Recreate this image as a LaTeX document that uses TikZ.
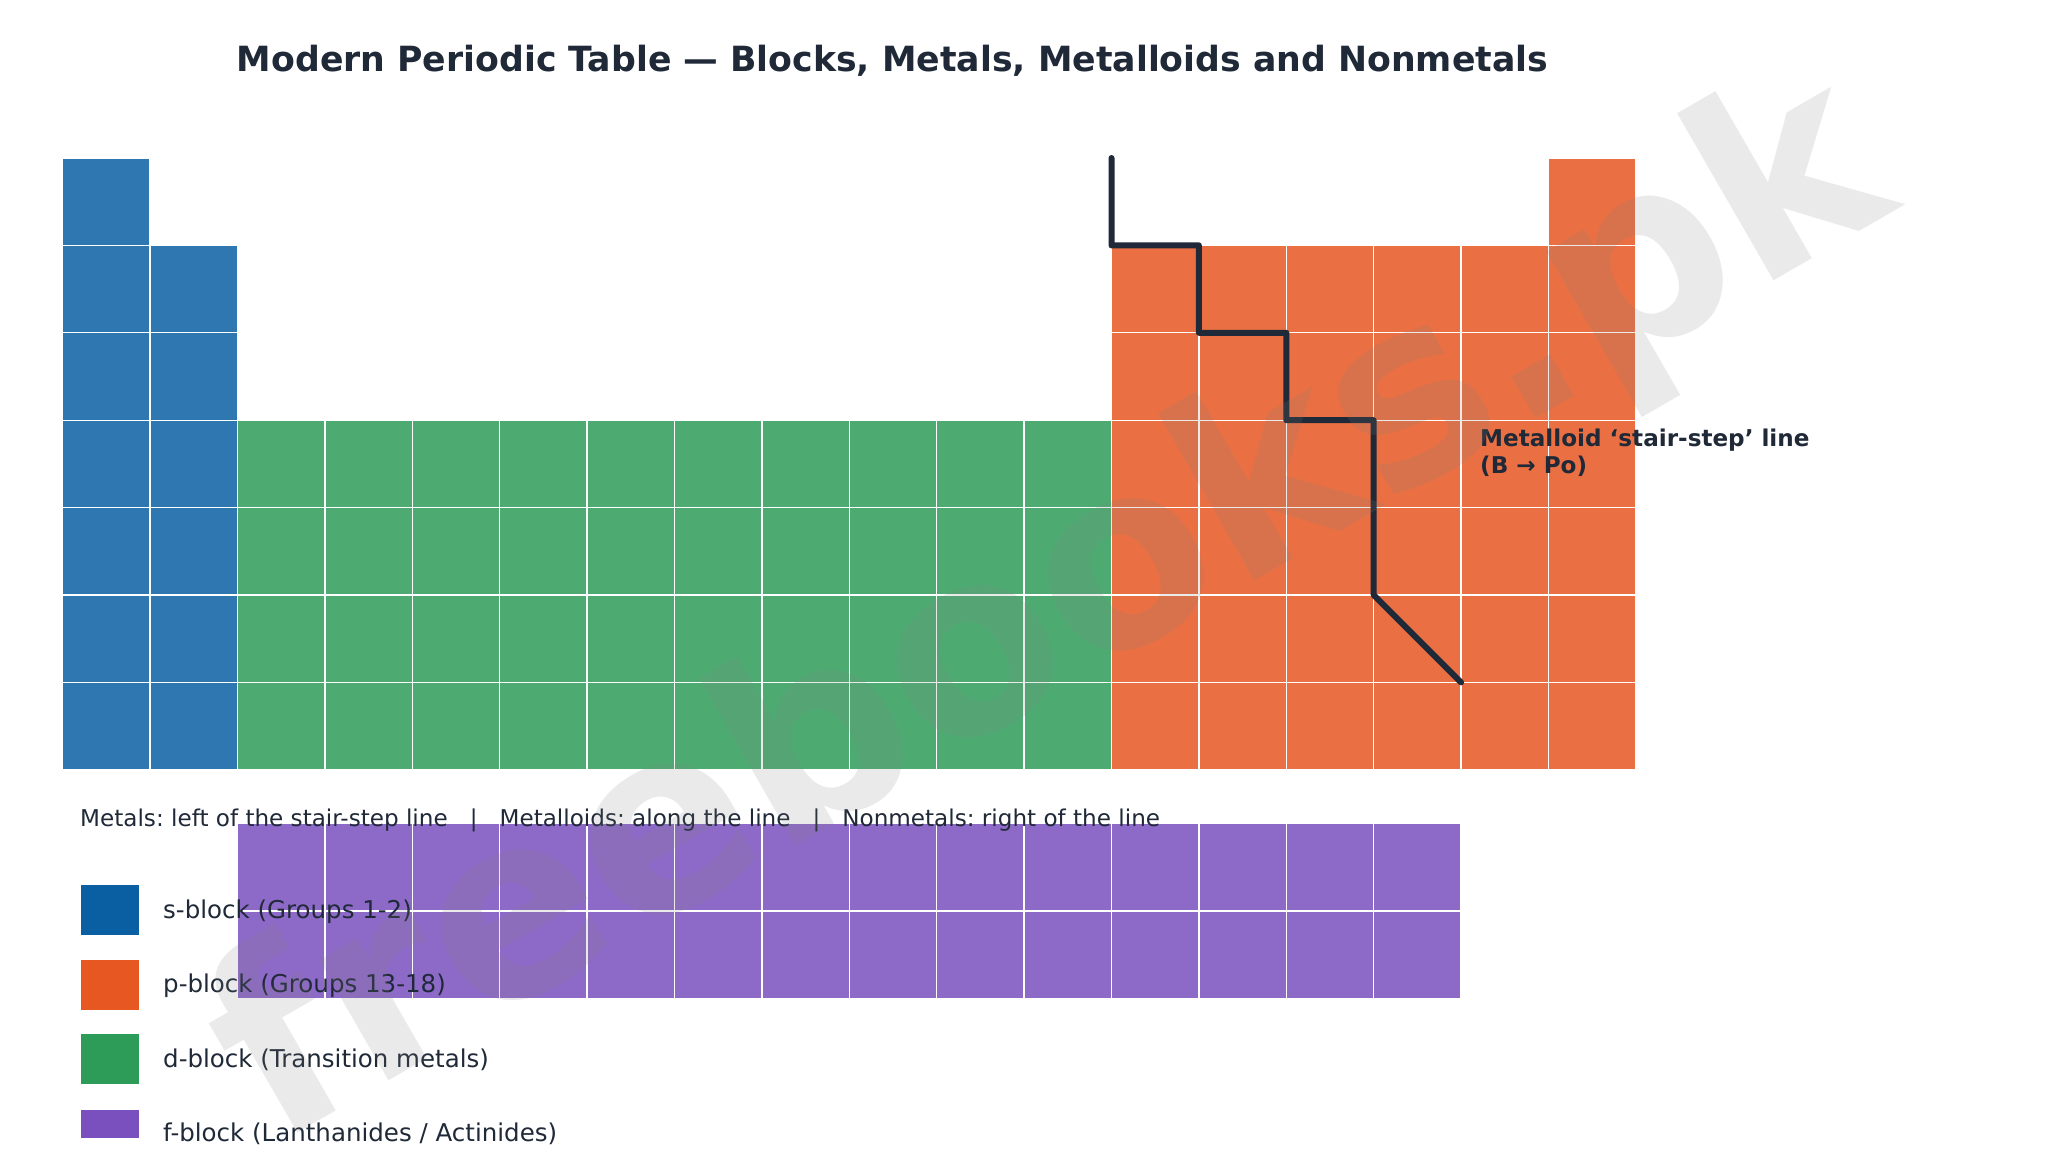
\documentclass[tikz,border=0pt]{standalone}
\usepackage{fontspec}
\setmainfont{DejaVu Sans}
\frenchspacing
\definecolor{ink}{HTML}{1F2937}
\definecolor{sLeg}{HTML}{0A5FA3}
\definecolor{pLeg}{HTML}{E65722}
\definecolor{dLeg}{HTML}{2E9C59}
\definecolor{fLeg}{HTML}{7A50BE}
\definecolor{sCell}{HTML}{2F77B1}
\definecolor{pCell}{HTML}{EA7043}
\definecolor{dCell}{HTML}{4DAB72}
\definecolor{fCell}{HTML}{8E6AC8}
\newcommand{\pcell}[3]{\draw[cellbox, fill=#3] (#1,#2) rectangle +(1,1);}
\begin{document}
\begin{tikzpicture}[x=1pt,y=-1pt,
  cellbox/.style={draw=white, line width=1.3pt},
  legtext/.style={anchor=base west, inner sep=0pt, text=ink, font=\fontsize{24.5}{29}\selectfont},
  anntext/.style={anchor=base west, inner sep=0pt, text=ink, font=\bfseries\fontsize{23.1}{28}\selectfont},
  stairline/.style={draw=ink, line width=6pt, line cap=round, line join=round}]
\useasboundingbox (0,0) rectangle (2048,1164);
\fill[white] (0,0) rectangle (2048,1164);
% main table
\begin{scope}[shift={(62.7,158)}, x=87.4pt, y=-87.4pt]
  \pcell{0}{0}{sCell}
  \pcell{17}{0}{pCell}
  \foreach \r in {1,...,6}{
    \pcell{0}{\r}{sCell}
    \pcell{1}{\r}{sCell}
    \foreach \c in {12,...,17}{\pcell{\c}{\r}{pCell}}
  }
  \foreach \r in {3,...,6}{
    \foreach \c in {2,...,11}{\pcell{\c}{\r}{dCell}}
  }
  \coordinate (s0) at (12,0);
  \coordinate (s1) at (12,1);
  \coordinate (s2) at (13,1);
  \coordinate (s3) at (13,2);
  \coordinate (s4) at (14,2);
  \coordinate (s5) at (14,3);
  \coordinate (s6) at (15,3);
  \coordinate (s7) at (15,5);
  \coordinate (s8) at (16,6);
\end{scope}
% f-block
\begin{scope}[shift={(237.5,823.5)}, x=87.4pt, y=-87.4pt]
  \foreach \r in {0,1}{
    \foreach \c in {0,...,13}{\pcell{\c}{\r}{fCell}}
  }
\end{scope}
% stair-step line
\draw[stairline] (s0) -- (s1) -- (s2) -- (s3) -- (s4) -- (s5) -- (s6) -- (s7) -- (s8);
% title
\node[anchor=base, inner sep=0pt, text=ink, font=\bfseries\fontsize{34.7}{42}\selectfont] (title) at (892.5,71) {Modern Periodic Table — Blocks, Metals, Metalloids and Nonmetals};
% annotation
\node[anntext] (ann1) at (1480,446.7) {Metalloid ‘stair-step’ line};
\node[anntext] (ann2) at (1480,473.3) {(B → Po)};
% note
\node[anchor=base west, inner sep=0pt, text=ink, font=\fontsize{23.1}{28}\selectfont] (note) at (80,826.7) {Metals: left of the stair-step line\ \ \ |\ \ \ Metalloids: along the line\ \ \ |\ \ \ Nonmetals: right of the line};
% legend
\fill[sLeg] (81,885) rectangle (139,935);
\fill[pLeg] (81,960) rectangle (139,1010);
\fill[dLeg] (81,1034) rectangle (139,1084);
\fill[fLeg] (81,1110) rectangle (139,1138);
\node[legtext] (ls) at (163,918) {s-block (Groups 1-2)};
\node[legtext] (lp) at (163,992.5) {p-block (Groups 13-18)};
\node[legtext] (ld) at (163,1067) {d-block (Transition metals)};
\node[legtext] (lf) at (163,1141) {f-block (Lanthanides / Actinides)};
% watermark
\node[rotate=30, anchor=base, inner sep=0pt, text=black!50, opacity=0.16, font=\bfseries\fontsize{254}{254}\selectfont] (wm) at (1088,677) {freebooks.pk};
\end{tikzpicture}
\end{document}
